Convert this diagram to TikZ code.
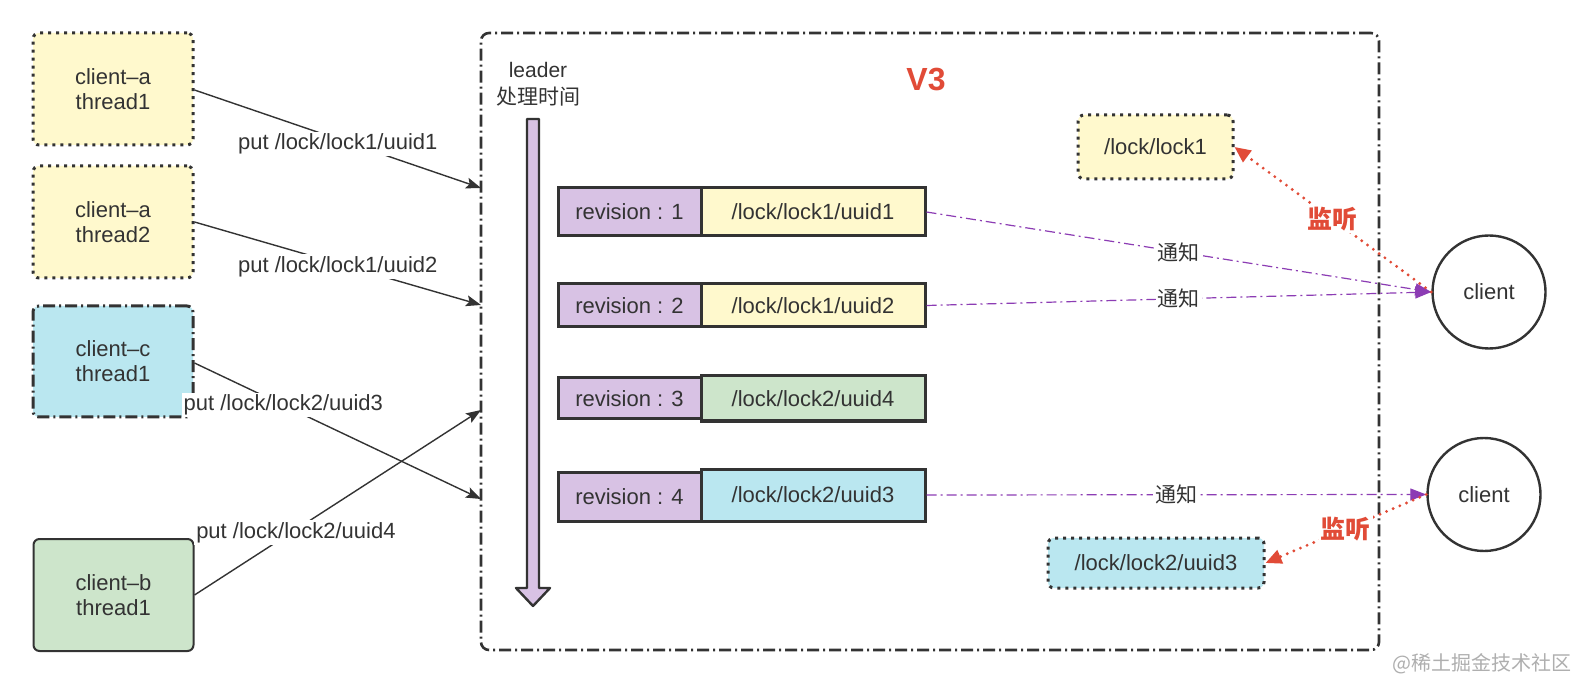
\documentclass[tikz,border=0pt]{standalone}
\usepackage{fontspec}
\setmainfont{Liberation Sans}
\newfontfamily\cjk{Noto Sans CJK SC}
\usetikzlibrary{arrows.meta}
\definecolor{ink}{RGB}{51,51,51}
\definecolor{yel}{RGB}{255,249,205}
\definecolor{cya}{RGB}{186,231,240}
\definecolor{grn}{RGB}{205,229,203}
\definecolor{pur}{RGB}{216,194,228}
\definecolor{vio}{RGB}{140,60,180}
\definecolor{redw}{RGB}{225,75,55}
\definecolor{wm}{RGB}{175,175,175}
\begin{document}
\begin{tikzpicture}[x=0.5pt,y=-0.5pt,
  txt/.style={text=ink,font=\fontsize{11}{12.5}\selectfont},
  cbox/.style={txt,draw=ink,line width=1.5pt,rounded corners=3pt,minimum width=80pt,minimum height=56pt,inner sep=0pt,align=center},
  dotbox/.style={cbox,dash pattern=on 1.5pt off 2.5pt},
  ddbox/.style={cbox,dash pattern=on 6pt off 2pt on 1pt off 2pt},
  revbox/.style={txt,draw=ink,line width=1.5pt,fill=pur,minimum width=71.5pt,inner sep=0pt},
  valbox/.style={txt,draw=ink,line width=1.5pt,minimum width=112pt,inner sep=0pt},
  circ/.style={txt,circle,draw=ink,line width=1.2pt,minimum size=56.5pt,inner sep=0pt},
  conn/.style={draw=ink,line width=0.7pt,-{Stealth[length=7.5pt,width=5.5pt,inset=1.5pt]}},
  lbl/.style={txt,fill=white,inner sep=1pt},
  notify/.style={draw=vio,line width=0.6pt,dash pattern=on 5pt off 2pt on 1pt off 2pt,-{Triangle[length=8pt,width=6pt]}},
  nlbl/.style={fill=white,inner sep=1pt,text=ink,font=\fontsize{10.5}{12}\selectfont\cjk},
  watch/.style={draw=redw,line width=1.6pt,line cap=round,dash pattern=on 0pt off 3.6pt,-{Triangle[length=8pt,width=7pt]}},
  wlbl/.style={fill=white,inner sep=1pt,text=redw,font=\fontsize{12.5}{14}\selectfont\cjk\bfseries}
]
\useasboundingbox (0,0) rectangle (1582,694);
\fill[white] (0,0) rectangle (1582,694);

% frame
\node[draw=ink,line width=1.3pt,rounded corners=4pt,dash pattern=on 6pt off 2pt on 1pt off 2pt,minimum width=449pt,minimum height=308.5pt,inner sep=0pt] (frame) at (930,341.5) {};

% left clients
\node[dotbox,fill=yel] (ca1) at (113,89) {client–a\\thread1};
\node[dotbox,fill=yel] (ca2) at (113,222) {client–a\\thread2};
\node[ddbox,fill=cya,minimum height=55.5pt] (cc1) at (113,361.5) {client–c\\thread1};
\node[cbox,fill=grn,line width=1pt] (cb1) at (113.5,595) {client–b\\thread1};

% entry points on frame
\coordinate (e1) at (481,188);
\coordinate (e2) at (481,305);
\coordinate (e3) at (481,499);
\coordinate (e4) at (481,410);

% leader time arrow
\node[txt,align=center,font=\fontsize{10.5}{13.5}\selectfont] (leader) at (538,84) {leader\\{\cjk 处理时间}};
\draw[fill=pur,draw=ink,line width=1.2pt,line join=round] (527,119) -- (539,119) -- (539,588) -- (550,588) -- (533,606) -- (516,588) -- (527,588) -- cycle;

% V3
\node[text=redw,font=\fontsize{16}{18}\selectfont\bfseries] (v3) at (926,80) {V3};

% revision rows
\node[revbox,minimum height=24pt] (r1) at (629.5,212) {revision : 1};
\node[valbox,fill=yel,minimum height=24pt] (v1) at (813,212) {/lock/lock1/uuid1};
\node[revbox,minimum height=21.5pt] (r2) at (629.5,305.5) {revision : 2};
\node[valbox,fill=yel,minimum height=21.5pt] (v2) at (813,305.5) {/lock/lock1/uuid2};
\node[revbox,minimum height=20.5pt] (r3) at (629.5,398.5) {revision : 3};
\node[valbox,fill=grn,minimum height=22.5pt] (v3b) at (813,398.5) {/lock/lock2/uuid4};
\node[revbox,minimum height=24.5pt] (r4) at (629.5,496.5) {revision : 4};
\node[valbox,fill=cya,minimum height=26pt] (v4) at (813,495) {/lock/lock2/uuid3};

% watched keys
\node[dotbox,fill=yel,minimum width=77.5pt,minimum height=32pt] (l1) at (1155.5,147) {/lock/lock1};
\node[dotbox,fill=cya,minimum width=108pt,minimum height=25pt] (l2) at (1156,563) {/lock/lock2/uuid3};

% clients on right
\node[circ] (c1) at (1489,292) {client};
\node[circ] (c2) at (1484,494.5) {client};

% put arrows
\draw[conn] (ca1.east |- 0,90) -- node[lbl,midway,yshift=-2.5pt] {put /lock/lock1/uuid1} (e1);
\draw[conn] (ca2.east) -- node[lbl,midway,yshift=-1.5pt] {put /lock/lock1/uuid2} (e2);
\draw[conn] (cc1.east |- 0,363) -- node[lbl,pos=0.31] {put /lock/lock2/uuid3} (e3);
\draw[conn] (cb1.east) -- node[lbl,pos=0.354,yshift=-1.5pt] {put /lock/lock2/uuid4} (e4);

% notifications
\draw[notify] (v1.east) -- node[nlbl,midway] {通知} (c1.west);
\draw[notify] (v2.east) -- node[nlbl,midway] {通知} (c1.west);
\draw[notify] (v4.east) -- node[nlbl,midway] {通知} (c2.west);

% watches
\draw[watch] (c1.west) -- node[wlbl,midway] {监听} (l1.east);
\draw[watch] (c2.west) -- node[wlbl,midway] {监听} (l2.east);

% watermark
\node[text=wm,font=\fontsize{10}{12}\selectfont\cjk] (wmk) at (1482,664) {@稀土掘金技术社区};
\end{tikzpicture}
\end{document}
